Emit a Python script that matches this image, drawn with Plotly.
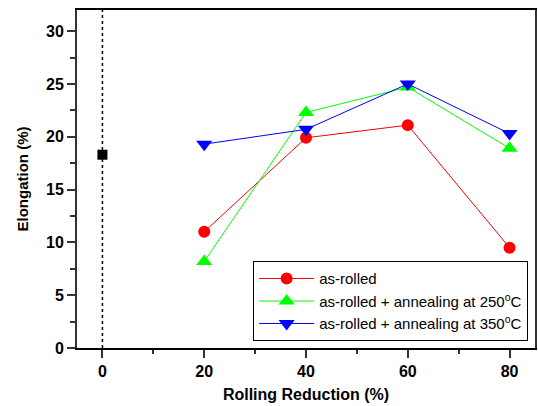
import plotly.graph_objects as go

reduction = [20, 40, 60, 80]
as_rolled = [11.0, 19.9, 21.1, 9.5]
ann_250 = [8.2, 22.3, 24.7, 18.9]
ann_350 = [19.3, 20.7, 25.0, 20.3]
base_x = [0]
base_y = [18.3]

x_ticks = [0, 20, 40, 60, 80]
y_ticks = [0, 5, 10, 15, 20, 25, 30]

fig = go.Figure()
fig.add_trace(go.Scatter(x=base_x, y=base_y, mode="markers", showlegend=False,
                         marker=dict(symbol="square", size=10, color="black")))
fig.add_trace(go.Scatter(x=reduction, y=as_rolled, mode="lines+markers", name="as-rolled",
                         line=dict(color="#FF0000", width=1),
                         marker=dict(symbol="circle", size=12, color="#FF0000")))
fig.add_trace(go.Scatter(x=reduction, y=ann_250, mode="lines+markers",
                         name="as-rolled + annealing at 250<sup>o</sup>C",
                         line=dict(color="#00FF00", width=1),
                         marker=dict(symbol="triangle-up", size=14, color="#00FF00")))
fig.add_trace(go.Scatter(x=reduction, y=ann_350, mode="lines+markers",
                         name="as-rolled + annealing at 350<sup>o</sup>C",
                         line=dict(color="#0000FF", width=1),
                         marker=dict(symbol="triangle-down", size=14, color="#0000FF")))

fig.add_shape(type="line", x0=0, x1=0, y0=0, y1=1, xref="x", yref="paper",
              line=dict(color="black", width=1.5, dash="dot"), layer="below")

font_family = "Liberation Sans, Arial, sans-serif"
fig.update_layout(
    width=538, height=406,
    margin=dict(l=77, r=1, t=10, b=58),
    paper_bgcolor="white", plot_bgcolor="white",
    font=dict(family=font_family, color="black"),
    xaxis=dict(range=[-5, 85], tickvals=x_ticks, ticktext=[f"<b>{v}</b>" for v in x_ticks],
               ticks="outside", ticklen=8, tickwidth=1.5,
               tickcolor="#333", showline=True, linecolor="black", linewidth=2, mirror=True,
               showgrid=False, zeroline=False,
               tickfont=dict(size=16, family=font_family),
               minor=dict(tickvals=[10, 30, 50, 70], ticks="outside", ticklen=4, tickcolor="#333"),
               title=dict(text="<b>Rolling Reduction (%)</b>", font=dict(size=16), standoff=10)),
    yaxis=dict(range=[0, 32], tickvals=y_ticks, ticktext=[f"<b>{v}</b>" for v in y_ticks],
               ticks="outside", ticklen=8, tickwidth=1.5,
               tickcolor="#333", showline=True, linecolor="#333", linewidth=2, mirror=True,
               showgrid=False, zeroline=False,
               tickfont=dict(size=16, family=font_family),
               minor=dict(tickvals=[2.5, 7.5, 12.5, 17.5, 22.5, 27.5], ticks="outside",
                          ticklen=5, tickcolor="#333"),
               title=dict(text="<b>Elongation (%)</b>", font=dict(size=15), standoff=14)),
    legend=dict(x=0.985, y=0.02, xanchor="right", yanchor="bottom",
                bordercolor="black", borderwidth=1, bgcolor="white",
                font=dict(size=15, family=font_family), tracegroupgap=0,
                itemwidth=55),
)

fig.write_html("out.html")
